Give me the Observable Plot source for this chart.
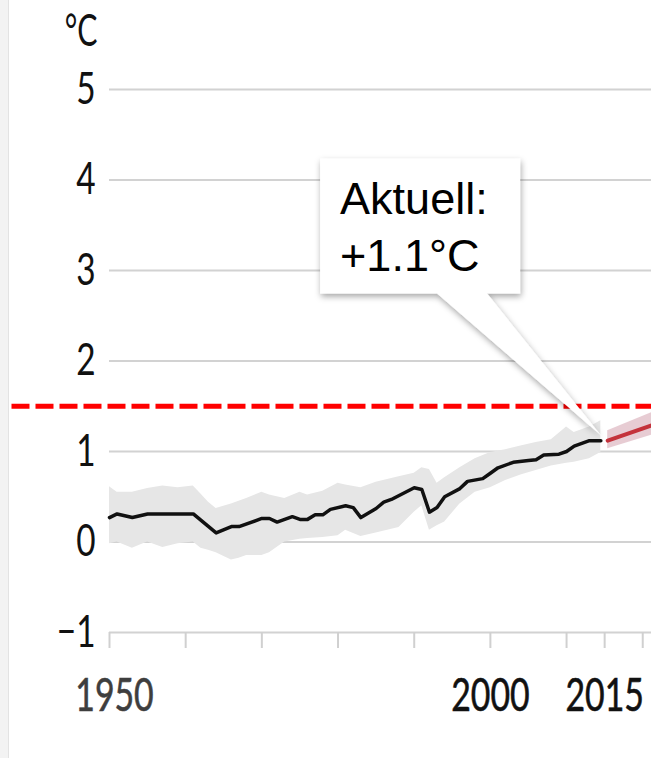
<!DOCTYPE html>
<html><head><meta charset="utf-8">
<script src="https://cdn.jsdelivr.net/npm/d3@7"></script>
<script src="https://cdn.jsdelivr.net/npm/@observablehq/plot@0.6"></script>
<style>
body{margin:0;background:#fff;}
#wrap{position:relative;width:651px;height:758px;overflow:hidden;background:#fff;}
#wrap svg{position:absolute;left:0;top:0;}
#edge{position:absolute;left:0;top:0;width:8px;height:758px;background:#f3f3f3;border-right:1px solid #e3e3e3;}
</style></head><body><div id="wrap"></div>
<script>
// Observed temperature anomaly (°C)
const lineYears = [1950, 1951, 1953, 1955, 1961, 1964, 1966, 1967, 1970, 1971, 1972, 1974, 1975, 1976, 1977, 1978, 1979, 1981, 1982, 1983, 1985, 1986, 1987, 1990, 1991, 1992, 1993, 1994, 1996, 1997, 1999, 2000, 2001, 2003, 2005, 2006, 2007, 2009, 2010, 2011, 2012, 2013, 2014.5];
const lineValues = [0.27, 0.31, 0.27, 0.31, 0.31, 0.10, 0.17, 0.17, 0.26, 0.26, 0.22, 0.28, 0.25, 0.25, 0.30, 0.30, 0.36, 0.40, 0.38, 0.27, 0.37, 0.44, 0.47, 0.60, 0.58, 0.33, 0.38, 0.50, 0.59, 0.67, 0.70, 0.76, 0.82, 0.88, 0.90, 0.91, 0.96, 0.97, 1.00, 1.06, 1.09, 1.12, 1.12];
// Uncertainty band
const bandYears = [1950, 1951, 1953, 1955, 1957, 1959, 1961, 1962, 1963, 1964, 1966, 1967, 1968, 1970, 1971, 1973, 1975, 1976, 1978, 1980, 1981, 1983, 1985, 1988, 1990, 1991, 1992, 1993, 1994, 1996, 1998, 2000, 2002, 2004, 2006, 2008, 2010, 2011, 2013, 2014.5];
const bandHigh = [0.61, 0.55, 0.55, 0.59, 0.62, 0.60, 0.62, 0.53, 0.44, 0.37, 0.42, 0.45, 0.48, 0.55, 0.52, 0.48, 0.55, 0.52, 0.56, 0.65, 0.63, 0.60, 0.66, 0.72, 0.76, 0.82, 0.80, 0.65, 0.71, 0.82, 0.92, 0.99, 1.02, 1.06, 1.10, 1.13, 1.27, 1.21, 1.27, 1.34];
const bandLow = [-0.02, 0.0, -0.07, 0.0, -0.06, -0.02, 0.0, -0.07, -0.09, -0.12, -0.2, -0.18, -0.15, -0.15, -0.12, 0.0, 0.03, 0.04, 0.05, 0.07, 0.13, 0.06, 0.10, 0.16, 0.33, 0.40, 0.13, 0.18, 0.22, 0.42, 0.55, 0.60, 0.68, 0.74, 0.79, 0.84, 0.87, 0.88, 0.92, 0.99];
// Projection (start)
const projYears = [2015.4, 2021.2];
const projValues = [1.12, 1.29];
const projHigh = [1.23, 1.43];
const projLow = [1.03, 1.18];
// Threshold
const threshold = [1.5];
// Axes
const yTicks = [-1, 0, 1, 2, 3, 4, 5];
const xTicks = [1950, 1960, 1970, 1980, 1990, 2000, 2010, 2015, 2020];
const xLabels = [1950, 2000, 2015];
const yUnit = "°C";
const calloutLines = ["Aktuell:", "+1.1°C"];
const calloutAt = {year: 2014.6, value: 1.17};

const lineData = lineYears.map((year, i) => ({year, value: lineValues[i]}));
const bandData = bandYears.map((year, i) => ({year, lo: bandLow[i], hi: bandHigh[i]}));
const projData = projYears.map((year, i) => ({year, value: projValues[i], lo: projLow[i], hi: projHigh[i]}));

const W = 651, H = 758;
const minus = d => d < 0 ? "\u2212" + Math.abs(d) : String(d);

const plot = Plot.plot({
  width: W, height: H,
  marginLeft: 109, marginRight: 0, marginTop: 89, marginBottom: 126,
  style: {fontFamily: "Lato", background: "transparent", overflow: "visible"},
  x: {domain: [1950, 2021.15]},
  y: {domain: [-1, 5]},
  marks: [
    Plot.gridY(yTicks, {stroke: "#d2d2d2", strokeOpacity: 1, strokeWidth: 2}),
    Plot.axisY(yTicks, {tickSize: 0, tickPadding: 14, fontSize: 44.5, tickFormat: minus, fill: "#111", label: null}),
    Plot.axisX(xTicks, {tickSize: 16, tickPadding: 29, stroke: "#d0d0d0", strokeWidth: 2, fontSize: 47, fill: "#111",
      tickFormat: d => xLabels.includes(d) ? String(d) : "", label: null}),
    Plot.text([yUnit], {frameAnchor: "top-left", text: d => d, dx: -12, dy: -58, textAnchor: "end", lineAnchor: "middle", fontSize: 44.5, fill: "#111"}),
    Plot.areaY(bandData, {x: "year", y1: "lo", y2: "hi", fill: "#e6e6e6"}),
    Plot.line(lineData, {x: "year", y: "value", stroke: "#111", strokeWidth: 3.5, strokeLinejoin: "round"}),
    Plot.areaY(projData, {x: "year", y1: "lo", y2: "hi", fill: "rgba(185,110,130,0.35)", clip: true}),
    Plot.line(projData, {x: "year", y: "value", stroke: "#c4323b", strokeWidth: 4, clip: true}),
    Plot.ruleY(threshold, {x1: 1937.2, x2: 2021.15, stroke: "#ff0000", strokeWidth: 5, strokeDasharray: "18,6"})
  ]
});

const wrap = document.getElementById("wrap");
wrap.appendChild(plot);
const edge = document.createElement("div"); edge.id = "edge"; wrap.appendChild(edge);

function squeezeEl(t, sx, shift = 0) {
  let tr = t.getAttribute("transform") || "";
  if (t.hasAttribute("x")) { const xx = t.getAttribute("x"); t.removeAttribute("x"); tr += ` translate(${xx},0)`; }
  if (shift) tr += ` translate(${shift},0)`;
  t.setAttribute("transform", (tr + ` scale(${sx},1)`).trim());
}
plot.querySelectorAll('g[aria-label="y-axis tick label"] text').forEach(t => squeezeEl(t, 0.75));
plot.querySelectorAll('g[aria-label="x-axis tick label"] text').forEach(t => squeezeEl(t, 0.72, t.textContent === "1950" ? 5 : 0));
plot.querySelectorAll('text').forEach(t => { if (t.textContent === yUnit) squeezeEl(t, 0.68); });
plot.querySelectorAll('g[aria-label="x-axis tick label"] text').forEach(t => {
  t.setAttribute("fill", t.textContent === "1950" ? "#3e3e3e" : "#111");
  t.setAttribute("stroke", t.textContent === "1950" ? "#3e3e3e" : "#111");
  t.setAttribute("stroke-width", 0.6);
});

// Callout
const sx = plot.scale("x"), sy = plot.scale("y");
const tx = sx.apply(calloutAt.year), ty = sy.apply(calloutAt.value);
const svg = d3.select(plot);
const defs = svg.append("defs");
defs.append("filter").attr("id", "sh").attr("x", "-20%").attr("y", "-20%").attr("width", "140%").attr("height", "150%")
  .append("feDropShadow").attr("dx", 1).attr("dy", 3).attr("stdDeviation", 3).attr("flood-color", "#000").attr("flood-opacity", 0.35);
const bx = tx - 281, by = ty - 277, bw = 200, bh = 135;
const g = svg.append("g");
g.append("path")
  .attr("d", `M${bx},${by}H${bx + bw}V${by + bh}H${bx + 167}L${tx},${ty}L${bx + 117},${by + bh}H${bx}Z`)
  .attr("fill", "#fff").attr("filter", "url(#sh)");
calloutLines.forEach((s, i) => {
  g.append("text").attr("x", bx + 20).attr("y", by + 55 + i * 57).attr("text-anchor", "start")
    .attr("font-family", "Liberation Sans, Arial, sans-serif").attr("font-size", 45).attr("fill", "#000").text(s);
});
</script></body></html>
